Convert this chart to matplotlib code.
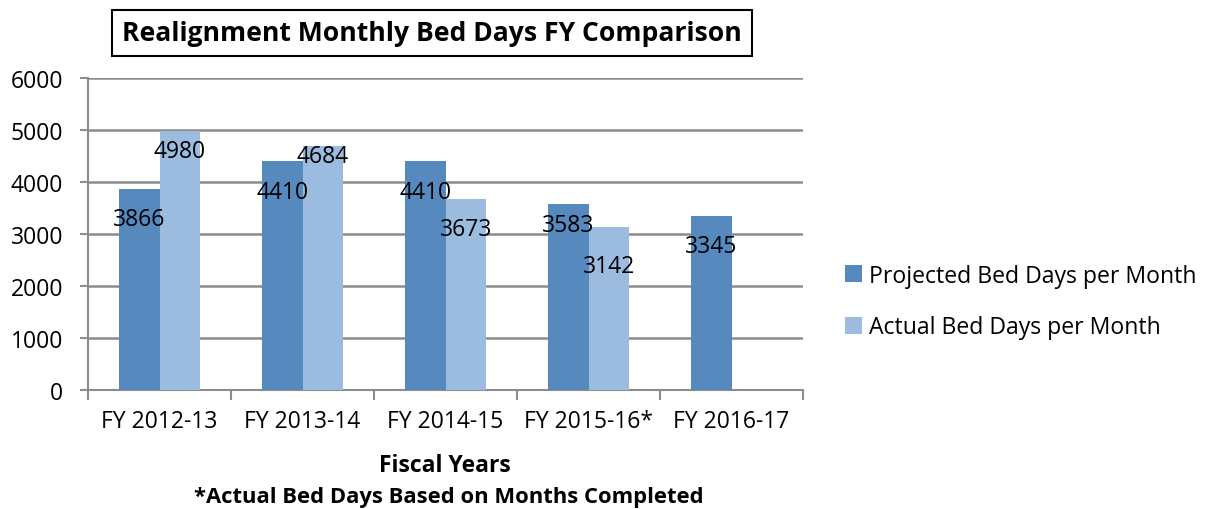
import matplotlib.pyplot as plt
import numpy as np

# Data
categories = ["FY 2012-13", "FY 2013-14", "FY 2014-15", "FY 2015-16*", "FY 2016-17"]
projected = [3866, 4410, 4410, 3583, 3345]
actual = [4980, 4684, 3673, 3142, None]

# where the value labels sit (data units), as placed in the original
projected_label_y = [3288, 3814, 3814, 3179, 2776]
actual_label_y = [4603, 4506, 3096, 2391, None]

plt.rcParams['font.family'] = ['Open Sans', 'DejaVu Sans']

c_proj = '#5689BE'
c_act = '#9BBBDF'
grid_c = '#8C8C8C'

W, H = 1207, 510
fig = plt.figure(figsize=(W / 100, H / 100), dpi=100)
ax = fig.add_axes([88 / W, 1 - 391 / H, 715 / W, 312 / H])

x = np.arange(len(categories))
bw = 0.285

ax.bar(x - bw / 2, projected, width=bw, color=c_proj, zorder=3,
       label='Projected Bed Days per Month')
act_x = [xi + bw / 2 for xi, v in zip(x, actual) if v is not None]
act_v = [v for v in actual if v is not None]
ax.bar(act_x, act_v, width=bw, color=c_act, zorder=3,
       label='Actual Bed Days per Month')

fs = 16.5
for xi, v, ly in zip(x, projected, projected_label_y):
    ax.text(xi - bw / 2, ly, str(v), ha='center', va='center', fontsize=fs, zorder=4)
for xi, v, ly in zip(x, actual, actual_label_y):
    if v is not None:
        ax.text(xi + bw / 2, ly, str(v), ha='center', va='center', fontsize=fs, zorder=4)

# axes styling
ax.set_xlim(-0.5, len(categories) - 0.5)
ax.set_ylim(0, 6000)
ax.set_yticks(range(0, 6001, 1000))
ax.yaxis.grid(True, color=grid_c, linewidth=1.8, zorder=0)
ax.set_axisbelow(True)
for s in ['top', 'right']:
    ax.spines[s].set_visible(False)
for s in ['left', 'bottom']:
    ax.spines[s].set_color(grid_c)
    ax.spines[s].set_linewidth(1.5)
ax.tick_params(axis='y', length=6, width=1.5, color=grid_c, labelsize=fs, pad=12)

ax.set_xticks(np.arange(-0.5, len(categories), 1.0))
ax.set_xticklabels([])
ax.set_xticks(x, minor=True)
ax.set_xticklabels(categories, minor=True)
ax.tick_params(axis='x', which='major', length=7, width=1.5, color=grid_c)
ax.tick_params(axis='x', which='minor', length=0, labelsize=fs, pad=14)

fig.text(445 / W, 1 - 466 / H, 'Fiscal Years', ha='center', va='center',
         fontsize=fs, fontweight='bold')
fig.text(449 / W, 1 - 498 / H, '*Actual Bed Days Based on Months Completed',
         ha='center', va='center', fontsize=15.8, fontweight='bold')

fig.text(432 / W, 1 - 34 / H, 'Realignment Monthly Bed Days FY Comparison',
         ha='center', va='center', fontsize=19.1, fontweight='bold',
         bbox=dict(boxstyle='square,pad=0.38', facecolor='white',
                   edgecolor='black', linewidth=1.5))

fig.legend(loc='upper left', bbox_to_anchor=(824 / W, 1 - 244 / H),
           frameon=False, fontsize=16.6, handlelength=0.75, handleheight=0.75,
           handletextpad=0.3, labelspacing=1.2)

fig.savefig('out.png', dpi=100)
